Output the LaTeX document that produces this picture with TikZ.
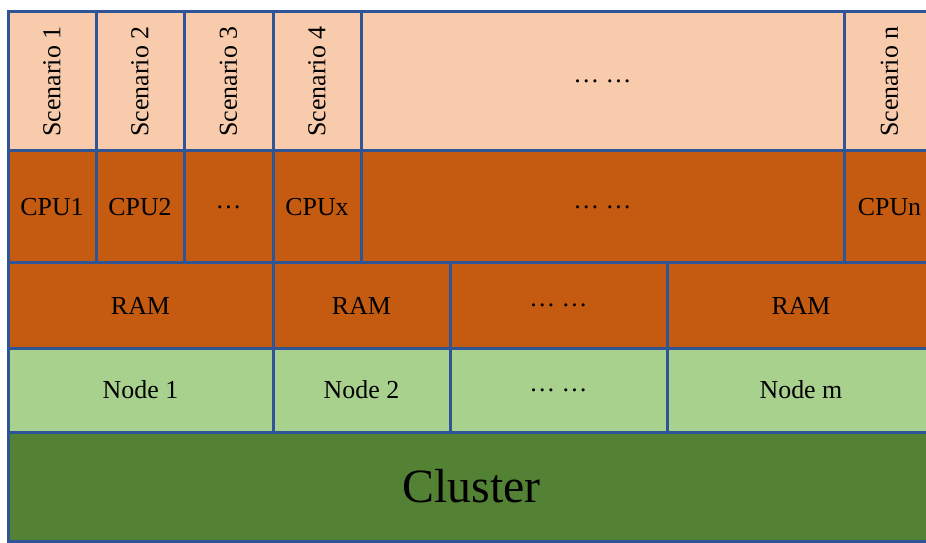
\documentclass[tikz,border=0pt]{standalone}
\usepackage{fontspec}
\setmainfont{Liberation Serif}
\definecolor{peach}{HTML}{F8CBAD}
\definecolor{rust}{HTML}{C55A11}
\definecolor{lgreen}{HTML}{A9D18E}
\definecolor{dgreen}{HTML}{548235}
\definecolor{bblue}{HTML}{2F5597}
\begin{document}
\begin{tikzpicture}[x=1bp,y=-1bp,
  cellbox/.style={draw=bblue,line width=3bp},
  lbl/.style={text=black,font=\fontsize{26}{30}\selectfont,inner sep=0pt},
  vlbl/.style={lbl,rotate=90},
  biglbl/.style={text=black,font=\fontsize{48}{56}\selectfont,inner sep=0pt}]
\useasboundingbox (0,0) rectangle (926,543);
\begin{scope}
\clip (0,0) rectangle (926,543);
% Scenario row
\draw[cellbox,fill=peach] (8,12) rectangle (96,151) node[midway,vlbl] (s1) {Scenario 1};
\draw[cellbox,fill=peach] (96,12) rectangle (184,151) node[midway,vlbl] (s2) {Scenario 2};
\draw[cellbox,fill=peach] (184,12) rectangle (273,151) node[midway,vlbl] (s3) {Scenario 3};
\draw[cellbox,fill=peach] (273,12) rectangle (361,151) node[midway,vlbl] (s4) {Scenario 4};
\draw[cellbox,fill=peach] (361,12) rectangle (844,151) node[midway,lbl] (sd) {… …};
\draw[cellbox,fill=peach] (844,12) rectangle (935,151) node[midway,vlbl] (sn) {Scenario n};
% CPU row
\draw[cellbox,fill=rust] (8,151) rectangle (96,263) node[midway,lbl] (c1) {CPU1};
\draw[cellbox,fill=rust] (96,151) rectangle (184,263) node[midway,lbl] (c2) {CPU2};
\draw[cellbox,fill=rust] (184,151) rectangle (273,263) node[midway,lbl] (c3) {…};
\draw[cellbox,fill=rust] (273,151) rectangle (361,263) node[midway,lbl] (cx) {CPUx};
\draw[cellbox,fill=rust] (361,151) rectangle (844,263) node[midway,lbl] (cd) {… …};
\draw[cellbox,fill=rust] (844,151) rectangle (935,263) node[midway,lbl] (cn) {CPUn};
% RAM row
\draw[cellbox,fill=rust] (8,263) rectangle (273,348) node[midway,lbl] (r1) {RAM};
\draw[cellbox,fill=rust] (273,263) rectangle (450,348) node[midway,lbl] (r2) {RAM};
\draw[cellbox,fill=rust] (450,263) rectangle (667,348) node[midway,lbl] (rd) {… …};
\draw[cellbox,fill=rust] (667,263) rectangle (935,348) node[midway,lbl] (rm) {RAM};
% Node row
\draw[cellbox,fill=lgreen] (8,348) rectangle (273,432) node[midway,lbl] (n1) {Node 1};
\draw[cellbox,fill=lgreen] (273,348) rectangle (450,432) node[midway,lbl] (n2) {Node 2};
\draw[cellbox,fill=lgreen] (450,348) rectangle (667,432) node[midway,lbl] (nd) {… …};
\draw[cellbox,fill=lgreen] (667,348) rectangle (935,432) node[midway,lbl] (nm) {Node m};
% Cluster
\draw[cellbox,fill=dgreen] (8,432) rectangle (935,541) node[midway,biglbl] (cl) {Cluster};
\end{scope}
\end{tikzpicture}
\end{document}
